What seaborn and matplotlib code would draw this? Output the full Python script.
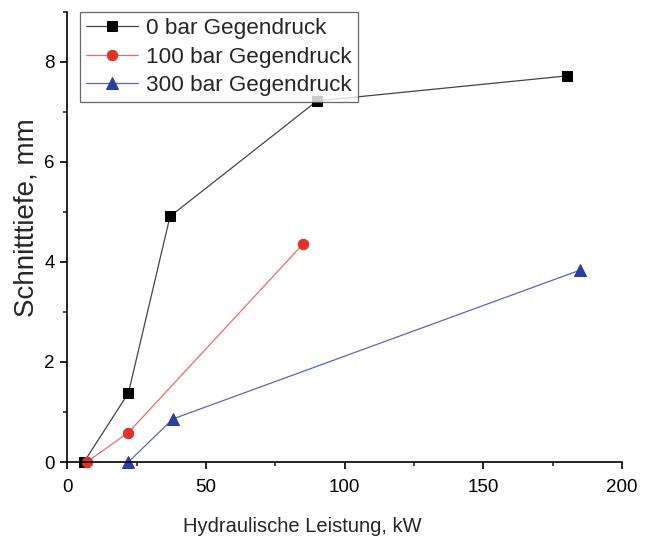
import pandas as pd
import seaborn as sns
import matplotlib.pyplot as plt
from matplotlib.ticker import MultipleLocator

# Values
p0_x = [6, 22, 37, 90, 180]
p0_y = [0.0, 1.38, 4.91, 7.22, 7.72]
p100_x = [7, 22, 85]
p100_y = [0.0, 0.59, 4.36]
p300_x = [22, 38, 185]
p300_y = [0.0, 0.86, 3.84]
labels = ["0 bar Gegendruck", "100 bar Gegendruck", "300 bar Gegendruck"]

df = pd.concat([
    pd.DataFrame({"x": p0_x, "y": p0_y, "serie": labels[0]}),
    pd.DataFrame({"x": p100_x, "y": p100_y, "serie": labels[1]}),
    pd.DataFrame({"x": p300_x, "y": p300_y, "serie": labels[2]}),
])

sns.set_style("ticks")
plt.rcParams['font.family'] = ['Liberation Sans', 'DejaVu Sans']

fig = plt.figure(figsize=(6.48, 5.41), dpi=100)
ax = fig.add_axes([0.104, 0.146, 0.856, 0.832])

line_colors = {labels[0]: "#444444", labels[1]: "#f06a66", labels[2]: "#5567c4"}
marker_colors = {labels[0]: "black", labels[1]: "#e2302a", labels[2]: "#2b3fa2"}
markers = {labels[0]: "s", labels[1]: "o", labels[2]: "^"}
msizes = {labels[0]: 7, labels[1]: 7.5, labels[2]: 8}

for lab in labels:
    sub = df[df.serie == lab]
    sns.lineplot(data=sub, x="x", y="y", ax=ax, sort=False, color=line_colors[lab],
                 linewidth=0.9, marker=markers[lab], markersize=msizes[lab],
                 markerfacecolor=marker_colors[lab], markeredgecolor=marker_colors[lab],
                 label=lab, clip_on=False)

ax.set_xlim(0, 200)
ax.set_ylim(0, 9)
ax.xaxis.set_major_locator(MultipleLocator(50))
ax.xaxis.set_minor_locator(MultipleLocator(25))
ax.yaxis.set_major_locator(MultipleLocator(2))
ax.yaxis.set_minor_locator(MultipleLocator(1))
ax.tick_params(which="major", direction="out", length=5, width=1.2, labelsize=13.5,
               colors="black")
ax.tick_params(axis="x", which="major", pad=7)
ax.tick_params(axis="y", which="major", pad=4)
ax.tick_params(which="minor", direction="out", length=3, width=1.2)
sns.despine(ax=ax)
for s in ["left", "bottom"]:
    ax.spines[s].set_linewidth(1.2)
    ax.spines[s].set_color("black")

ax.set_xlabel("Hydraulische Leistung, kW", fontsize=14.5)
ax.set_ylabel("Schnitttiefe, mm", fontsize=20)
ax.xaxis.set_label_coords(0.423, -0.122)
ax.yaxis.set_label_coords(-0.051, 0.544)

leg = ax.legend(loc="upper left", bbox_to_anchor=(0.023, 1.0), fontsize=16.2,
                frameon=True, fancybox=False, edgecolor="#444444",
                borderpad=0.28, labelspacing=0.33, handlelength=2.3, handletextpad=0.35,
                borderaxespad=0.0)
leg.get_frame().set_linewidth(0.9)

fig.savefig("out.png", dpi=100)
